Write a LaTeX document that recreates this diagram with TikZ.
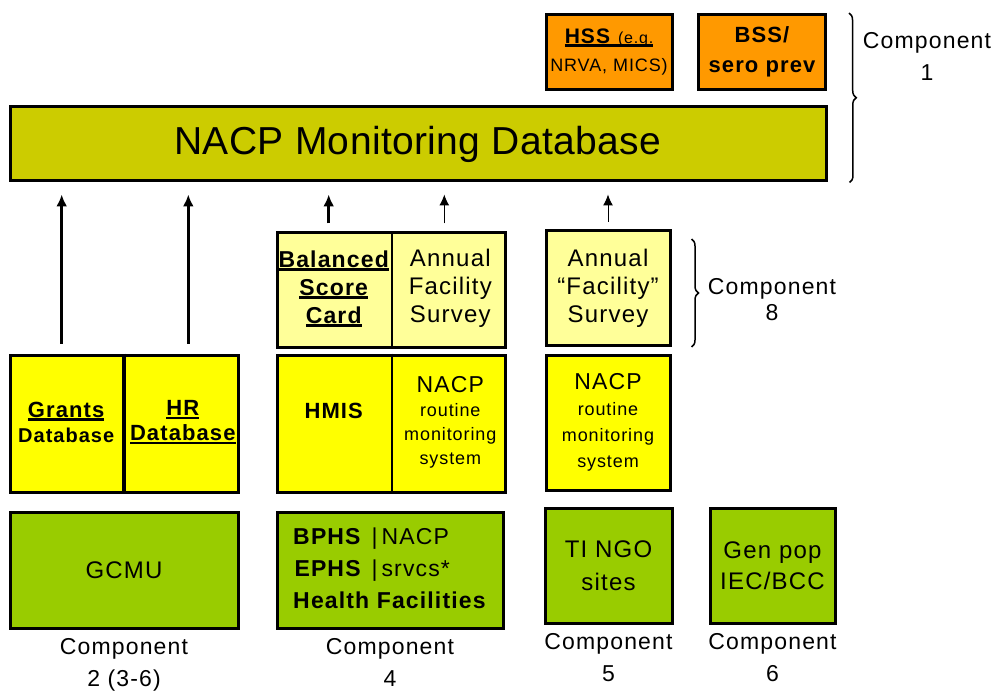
\documentclass[tikz,border=0pt]{standalone}
\usepackage{fontspec}
\setmainfont{Liberation Sans}[LetterSpace=5]
\usepackage{tikz}
\usetikzlibrary{positioning,shadows,decorations.pathreplacing,arrows.meta}
\definecolor{orangebox}{RGB}{255,153,0}
\definecolor{olivebox}{RGB}{204,204,0}
\definecolor{paleyellow}{RGB}{255,255,153}
\definecolor{brightyellow}{RGB}{255,255,0}
\definecolor{limegreen}{RGB}{153,204,0}
\newcommand{\fsize}[2]{\fontsize{#1}{#2}\selectfont}
\newcommand{\undl}[1]{\leavevmode\setbox0\hbox{#1}\rlap{\rule[-3.5pt]{\wd0}{2.5pt}}\box0}
\tikzstyle{box} = [rectangle, draw=black, line width=3pt, text=black, align=center, inner sep=0pt, font=\fsize{24}{28}, drop shadow={shadow xshift=1.5pt, shadow yshift=-1.5pt, fill=black, opacity=0.85}]
\tikzstyle{half} = [rectangle, draw=none, fill=none, text=black, align=center, inner sep=0pt, font=\fsize{24}{28}]
\tikzstyle{divider} = [draw, line width=1.2pt]
\tikzstyle{bigdivider} = [draw, line width=4pt]
\tikzstyle{caption} = [draw=none, fill=none, text=black, align=center, inner sep=0pt, font=\fsize{23}{32}]
\tikzstyle{bigedge} = [draw, line width=3pt, -{Latex[length=12pt,width=11pt]}]
\tikzstyle{smalledge} = [draw, line width=1pt, -{Latex[length=11pt,width=10pt]}]
\tikzstyle{curly} = [draw, decorate, decoration={brace, amplitude=7pt}, line width=1.5pt]

\begin{document}
\begin{tikzpicture}[x=1pt, y=-1pt]
\useasboundingbox (0,0) rectangle (992,692);

% database and component 1 ===================
\node[box, fill=olivebox, minimum width=816pt, minimum height=74pt, font=\fsize{39}{44}\addfontfeature{LetterSpace=1}] (db) at (418,144) {NACP Monitoring Database};
\node[box, fill=orangebox, minimum width=126pt, minimum height=75pt] (hss) at (609,52) {\fsize{21}{25}\undl{\textbf{HSS} {\fsize{16}{25}(e.g.}}\\ \fsize{18}{25}NRVA, MICS)};
\node[box, fill=orangebox, minimum width=127pt, minimum height=75pt, font=\bfseries\fsize{22}{30}] (bss) at (762,52) {BSS/\\sero prev};

% component 8 surveys
\node[box, fill=paleyellow, minimum width=228pt, minimum height=114pt] (bscrow) at (391,290) {};
\node[half, anchor=north west, minimum width=116pt, minimum height=114pt, font=\bfseries\fsize{23}{28}] (bsc) at (bscrow.north west) {\undl{Balanced}\\ \undl{Score}\\ \undl{Card}};
\node[half, anchor=north east, minimum width=112pt, minimum height=114pt] (afs) at (bscrow.north east) {Annual\\Facility\\Survey};
\path[divider] (bsc.north east) -- (bsc.south east);
\node[box, fill=paleyellow, minimum width=124pt, minimum height=115pt] (afs2) at (608,288) {Annual\\“Facility”\\Survey};

% routine systems
\node[box, fill=brightyellow, minimum width=228pt, minimum height=137pt] (dbrow) at (124,423.5) {};
\node[half, anchor=north west, minimum width=115pt, minimum height=137pt, font=\bfseries\fsize{22}{25}] (grants) at (dbrow.north west) {\undl{Grants}\\ \fsize{20}{25}Database};
\node[half, anchor=north east, minimum width=113pt, minimum height=137pt, font=\bfseries\fsize{22}{25}] (hr) at (dbrow.north east) {\undl{HR}\\ \undl{Database}};
\path[bigdivider] (grants.north east) -- (grants.south east);

\node[box, fill=brightyellow, minimum width=228pt, minimum height=137pt] (hmisrow) at (391,423.5) {};
\node[half, anchor=north west, minimum width=116pt, minimum height=137pt, font=\bfseries\fsize{22}{25}] (hmis) at (hmisrow.north west) {\raisebox{4pt}[0pt][0pt]{HMIS}};
\node[half, anchor=north east, minimum width=112pt, minimum height=137pt, font=\fsize{18}{24}] (nrms) at (hmisrow.north east) {{\fsize{23}{29}NACP}\\ routine\\ monitoring\\ system};
\path[divider] (hmis.north east) -- (hmis.south east);

\node[box, fill=brightyellow, minimum width=124pt, minimum height=135pt, font=\fsize{18}{26}] (nrms2) at (608,422.5) {{\fsize{23}{28}NACP}\\ routine\\ monitoring\\ system};

% service delivery
\node[box, fill=limegreen, minimum width=228pt, minimum height=116pt] (gcmu) at (124,570) {GCMU};
\node[box, fill=limegreen, minimum width=226pt, minimum height=116pt] (bphs) at (390,570) {\fsize{23}{32}\begin{tabular}{@{}r@{\hspace{10pt}|\,}l@{}}\textbf{BPHS} & NACP\\ \textbf{EPHS} & srvcs*\\ \multicolumn{2}{@{}c@{}}{\textbf{Health Facilities}}\end{tabular}};
\node[box, fill=limegreen, minimum width=127pt, minimum height=115pt, font=\fsize{24}{33}] (tingo) at (608.5,565.5) {TI NGO\\sites};
\node[box, fill=limegreen, minimum width=125pt, minimum height=115pt, font=\fsize{24}{31}] (genpop) at (772.5,565.5) {Gen pop\\IEC/BCC};

% captions
\node[caption, below=9pt of gcmu] (comp2) {Component\\2 (3-6)};
\node[caption, below=9pt of bphs] (comp4) {Component\\4};
\node[caption, below=9pt of tingo] (comp5) {Component\\5};
\node[caption, below=9pt of genpop] (comp6) {Component\\6};
\node[caption] (comp1) at (927,56) {Component\\1};
\node[caption, font=\fsize{23}{26}] (comp8) at (772,300) {Component\\8};

% braces
\coordinate (b1top) at ([xshift=22pt]bss.north east);
\coordinate (b1bot) at ([xshift=22pt]db.south east);
\path[curly] (b1top) -- (b1bot);
\coordinate (b8top) at ([xshift=20pt, yshift=-10pt]afs2.north east);
\coordinate (b8bot) at ([xshift=20pt]afs2.south east);
\path[curly] (b8top) -- (b8bot);

% edges
\path[bigedge, shorten <=10pt, shorten >=12pt] ([xshift=-4.5pt]grants.north) -- ([xshift=-4.5pt]grants.north |- db.south);
\path[bigedge, shorten <=10pt, shorten >=12pt] ([xshift=5.5pt]hr.north) -- ([xshift=5.5pt]hr.north |- db.south);
\path[bigedge, shorten <=8pt, shorten >=12pt] ([xshift=-5pt]bsc.north) -- ([xshift=-5pt]bsc.north |- db.south);
\path[smalledge, shorten <=8pt, shorten >=12pt] ([xshift=-6pt]afs.north) -- ([xshift=-6pt]afs.north |- db.south);
\path[smalledge, shorten <=7pt, shorten >=12pt] (afs2.north) -- (afs2.north |- db.south);

\end{tikzpicture}
\end{document}
